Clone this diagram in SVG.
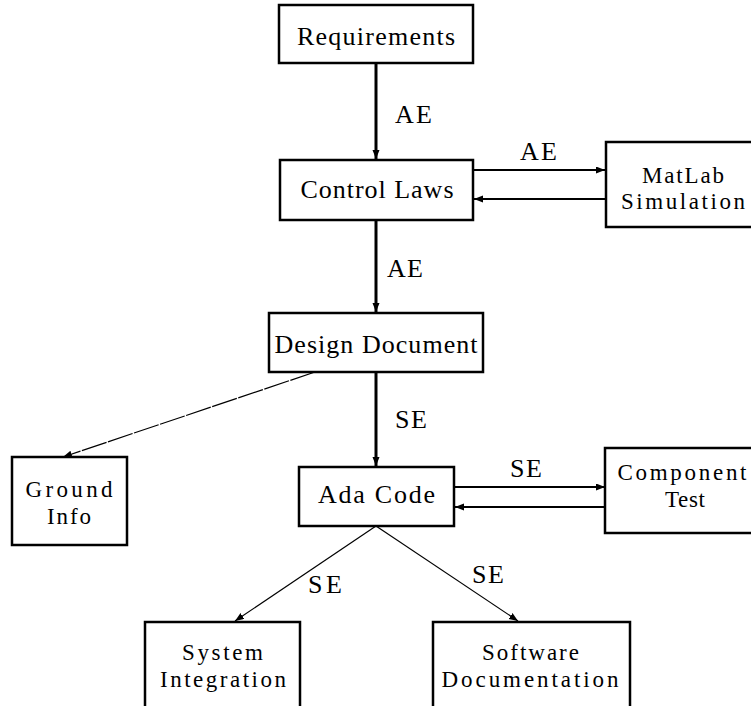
<svg xmlns="http://www.w3.org/2000/svg" width="751" height="706" viewBox="0 0 751 706">
<style>
.box{fill:#fff;stroke:#000;stroke-width:2.5}
.t{font-family:'Liberation Serif','DejaVu Serif','Times New Roman',serif;font-size:26px;fill:#000;text-anchor:middle}
.t2{font-family:'Liberation Serif','DejaVu Serif','Times New Roman',serif;font-size:23px;fill:#000;text-anchor:middle}
.lbl{font-family:'Liberation Serif','DejaVu Serif','Times New Roman',serif;font-size:26px;fill:#000;text-anchor:start}
.thick{stroke:#000;stroke-width:3;fill:none}
.med{stroke:#000;stroke-width:2;fill:none}
.thin{stroke:#000;stroke-width:1.2;fill:none}
</style>
<defs>
<marker id="ah" markerUnits="userSpaceOnUse" markerWidth="10" markerHeight="8" refX="9" refY="3.5" orient="auto">
<path d="M0,0 L9,3.5 L0,7 z" fill="#000"/>
</marker>
</defs>
<rect width="751" height="706" fill="#fff"/>
<g id="connectors">
<line class="thick" x1="376" y1="63" x2="376" y2="159" marker-end="url(#ah)"/>
<line class="med" x1="473" y1="170" x2="605" y2="170" marker-end="url(#ah)"/>
<line class="med" x1="606" y1="199" x2="474" y2="199" marker-end="url(#ah)"/>
<line class="thick" x1="376" y1="220" x2="376" y2="312" marker-end="url(#ah)"/>
<line class="thin" x1="315" y1="372" x2="63" y2="457" stroke-dasharray="26 1.5" marker-end="url(#ah)"/>
<line class="thick" x1="376" y1="372" x2="376" y2="466" marker-end="url(#ah)"/>
<line class="med" x1="454" y1="487" x2="605" y2="487" marker-end="url(#ah)"/>
<line class="med" x1="605" y1="507" x2="455" y2="507" marker-end="url(#ah)"/>
<line class="thin" x1="376" y1="526" x2="235" y2="621" marker-end="url(#ah)"/>
<line class="thin" x1="376" y1="526" x2="518" y2="621" marker-end="url(#ah)"/>
<text class="lbl" x="395" y="123" textLength="37">AE</text>
<text class="lbl" x="520" y="160" textLength="37">AE</text>
<text class="lbl" x="387" y="277" textLength="36">AE</text>
<text class="lbl" x="395" y="428" textLength="32">SE</text>
<text class="lbl" x="510" y="477" textLength="32">SE</text>
<text class="lbl" x="308" y="593" textLength="34">SE</text>
<text class="lbl" x="472" y="583" textLength="32">SE</text>
</g>
<g id="requirements">
<rect class="box" x="279" y="5" width="194" height="58"/>
<text class="t" x="376" y="45" textLength="158">Requirements</text>
</g>
<g id="control-laws">
<rect class="box" x="280" y="160" width="193" height="60"/>
<text class="t" x="377" y="198" textLength="153">Control Laws</text>
</g>
<g id="matlab-simulation">
<rect class="box" x="606" y="142" width="156" height="85"/>
<text class="t2" x="683" y="183" textLength="82">MatLab</text>
<text class="t2" x="683" y="209" textLength="124">Simulation</text>
</g>
<g id="design-document">
<rect class="box" x="269" y="313" width="214" height="59"/>
<text class="t" x="376" y="353" textLength="203">Design Document</text>
</g>
<g id="ground-info">
<rect class="box" x="12" y="457" width="115" height="88"/>
<text class="t2" x="69" y="497" textLength="87">Ground</text>
<text class="t2" x="69" y="524" textLength="44">Info</text>
</g>
<g id="ada-code">
<rect class="box" x="299" y="467" width="155" height="59"/>
<text class="t" x="376.5" y="503" textLength="117">Ada Code</text>
</g>
<g id="component-test">
<rect class="box" x="605" y="448" width="157" height="85"/>
<text class="t2" x="682" y="480" textLength="129">Component</text>
<text class="t2" x="685" y="507" textLength="40">Test</text>
</g>
<g id="system-integration">
<rect class="box" x="145" y="622" width="155" height="95"/>
<text class="t2" x="222.5" y="660" textLength="81">System</text>
<text class="t2" x="223" y="687" textLength="126">Integration</text>
</g>
<g id="software-documentation">
<rect class="box" x="433" y="622" width="197" height="95"/>
<text class="t2" x="530.5" y="660" textLength="97">Software</text>
<text class="t2" x="530" y="687" textLength="177">Documentation</text>
</g>
</svg>
